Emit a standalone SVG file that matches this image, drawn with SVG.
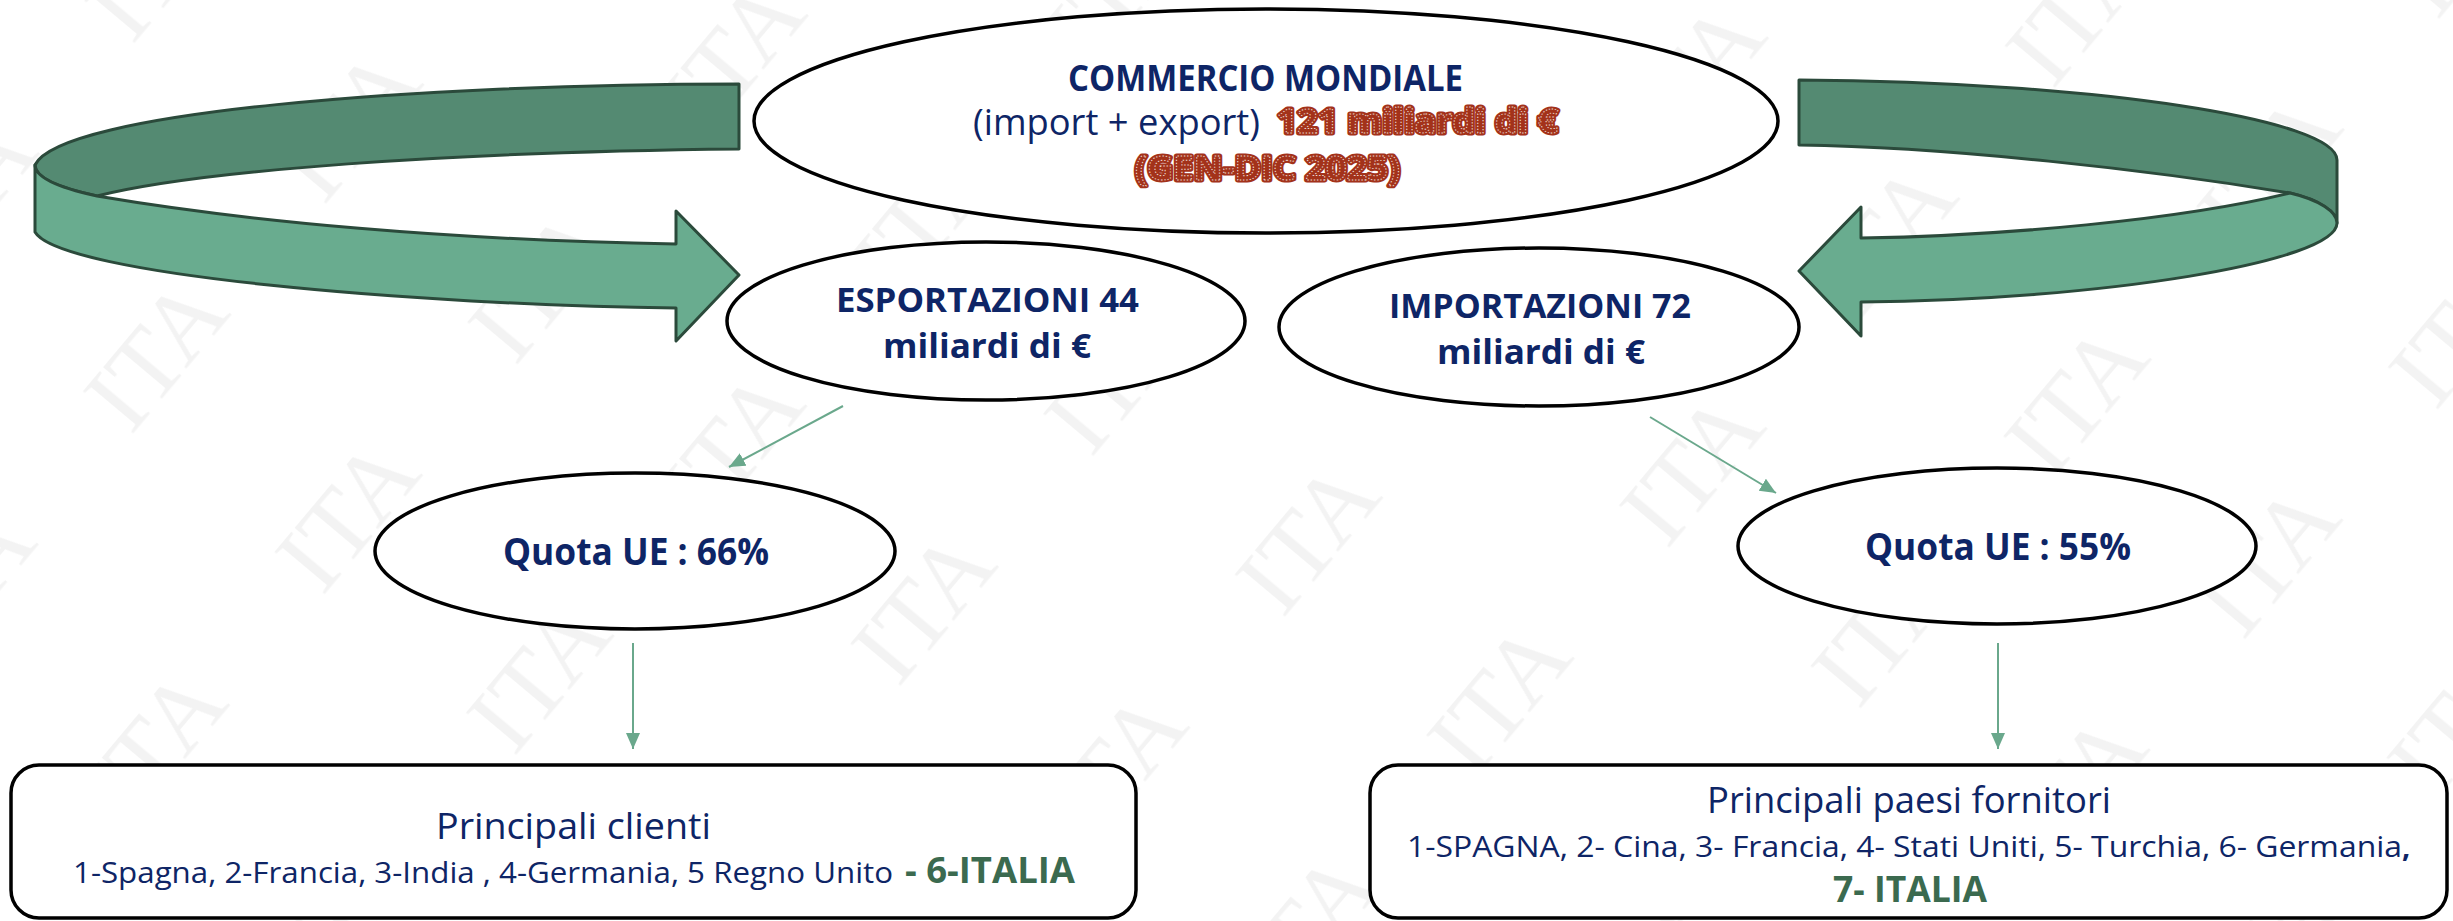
<svg xmlns="http://www.w3.org/2000/svg" xmlns:xlink="http://www.w3.org/1999/xlink" width="2453" height="921" viewBox="0 0 2453 921">
<style>
  .txt { font-family: "Open Sans", "Liberation Sans", sans-serif; fill: #0e2566; }
  .b { font-weight: bold; }
  .green { fill: #3b6a4f; }
  .node { fill: #ffffff; stroke: #000000; stroke-width: 3.5; }
  .band-dark { fill: #548a72; stroke: #2b4a3b; stroke-width: 3; stroke-linejoin: round; }
  .band-light { fill: #69ac8f; stroke: #2b4a3b; stroke-width: 3; stroke-linejoin: round; }
  .conn { stroke: #6aa88c; stroke-width: 2; fill: none; }
  .redBase { fill: #a3321a; stroke: #a3321a; stroke-width: 5; stroke-linejoin: round; }
  .redTop { fill: #a3321a; stroke: #f4e6e0; stroke-width: 0.9; stroke-dasharray: 1.2 1.8; }
  .wm { font-family: "Liberation Serif", serif; font-size: 100px; fill: #f3f3f3; }
</style>
<defs>
  <marker id="ah" markerUnits="userSpaceOnUse" markerWidth="18" markerHeight="18" refX="16" refY="7" orient="auto">
    <path d="M0,0 L16,7 L0,14 Z" fill="#6aa88c"/>
  </marker>
  <pattern id="wmp" patternUnits="userSpaceOnUse" width="300" height="250" patternTransform="rotate(-50)">
    <text class="wm" x="50" y="130">ITA</text>
  </pattern>
</defs>

<rect x="0" y="0" width="2453" height="921" fill="#ffffff"/>
<rect x="0" y="0" width="2453" height="921" fill="url(#wmp)"/>

<g id="arrow-left">
  <path class="band-dark" d="M739,84 C420,84 60,112 35,165 C35,178 60,188 97,196 C200,170 450,152 739,149 Z"/>
  <path class="band-light" d="M35,165 C35,178 60,188 97,196 C250,222 450,240 676,244 L676,211 L739,275 L676,341 L676,308 C420,305 60,275 35,232 Z"/>
</g>

<g id="arrow-right">
  <path class="band-dark" d="M1799,80 C2100,82 2337,120 2337,160 L2337,223 C2337,212 2320,200 2290,193 C2150,170 1950,147 1799,145 Z"/>
  <path class="band-light" d="M1861,238 C2000,236 2180,220 2290,193 C2320,200 2337,212 2337,223 C2337,262 2100,300 1861,302 L1861,336 L1799,271 L1861,207 Z"/>
</g>

<g id="connectors">
  <line class="conn" x1="843" y1="406" x2="729" y2="467" marker-end="url(#ah)"/>
  <line class="conn" x1="1650" y1="417" x2="1776" y2="493" marker-end="url(#ah)"/>
  <line class="conn" x1="633" y1="643" x2="633" y2="749" marker-end="url(#ah)"/>
  <line class="conn" x1="1998" y1="643" x2="1998" y2="749" marker-end="url(#ah)"/>
</g>

<g id="node-commercio">
  <ellipse class="node" cx="1266" cy="121" rx="512" ry="112"/>
  <text class="txt b" x="1068" y="91" font-size="36" textLength="395" lengthAdjust="spacingAndGlyphs">COMMERCIO MONDIALE</text>
  <text class="txt" x="973" y="135" font-size="36" textLength="287" lengthAdjust="spacingAndGlyphs">(import + export)</text>
  <g class="redBase"><use xlink:href="#tred"/></g>
  <g class="redTop">
    <text id="tred" font-family="'Open Sans', 'Liberation Sans', sans-serif" font-weight="bold" font-size="34"><tspan x="1277" y="133" textLength="281" lengthAdjust="spacingAndGlyphs">121 miliardi di €</tspan><tspan x="1135" y="180" textLength="265" lengthAdjust="spacingAndGlyphs">(GEN-DIC 2025)</tspan></text>
  </g>
</g>

<g id="node-esportazioni">
  <ellipse class="node" cx="986" cy="321" rx="259" ry="79"/>
  <text class="txt b" font-size="34"><tspan x="836" y="312" textLength="303" lengthAdjust="spacingAndGlyphs">ESPORTAZIONI 44</tspan><tspan x="883" y="358" textLength="208" lengthAdjust="spacingAndGlyphs">miliardi di €</tspan></text>
</g>

<g id="node-importazioni">
  <ellipse class="node" cx="1539" cy="327" rx="260" ry="79"/>
  <text class="txt b" font-size="34"><tspan x="1389" y="318" textLength="302" lengthAdjust="spacingAndGlyphs">IMPORTAZIONI 72</tspan><tspan x="1437" y="364" textLength="208" lengthAdjust="spacingAndGlyphs">miliardi di €</tspan></text>
</g>

<g id="node-quota66">
  <ellipse class="node" cx="635" cy="551" rx="260" ry="78"/>
  <text class="txt b" x="503" y="565" font-size="37" textLength="266" lengthAdjust="spacingAndGlyphs">Quota UE : 66%</text>
</g>

<g id="node-quota55">
  <ellipse class="node" cx="1997" cy="546" rx="259" ry="78"/>
  <text class="txt b" x="1865" y="560" font-size="37" textLength="266" lengthAdjust="spacingAndGlyphs">Quota UE : 55%</text>
</g>

<g id="node-clienti">
  <rect class="node" x="11" y="765" width="1125" height="153" rx="28" ry="28"/>
  <text class="txt" font-size="37"><tspan x="436" y="839" textLength="275" lengthAdjust="spacingAndGlyphs">Principali clienti</tspan><tspan x="73" y="883" font-size="29" textLength="820" lengthAdjust="spacingAndGlyphs">1-Spagna, 2-Francia, 3-India , 4-Germania, 5 Regno Unito</tspan><tspan class="b green" x="905" y="883" font-size="35" textLength="170" lengthAdjust="spacingAndGlyphs">- 6-ITALIA</tspan></text>
</g>

<g id="node-fornitori">
  <rect class="node" x="1370" y="765" width="1077" height="153" rx="28" ry="28"/>
  <text class="txt" font-size="37"><tspan x="1707" y="813" textLength="404" lengthAdjust="spacingAndGlyphs">Principali paesi fornitori</tspan><tspan x="1407" y="857" font-size="29" textLength="995" lengthAdjust="spacingAndGlyphs">1-SPAGNA, 2- Cina, 3- Francia, 4- Stati Uniti, 5- Turchia, 6- Germania</tspan><tspan class="b" font-size="29">,</tspan><tspan class="b green" x="1833" y="902" font-size="35" textLength="154" lengthAdjust="spacingAndGlyphs">7- ITALIA</tspan></text>
</g>
</svg>
